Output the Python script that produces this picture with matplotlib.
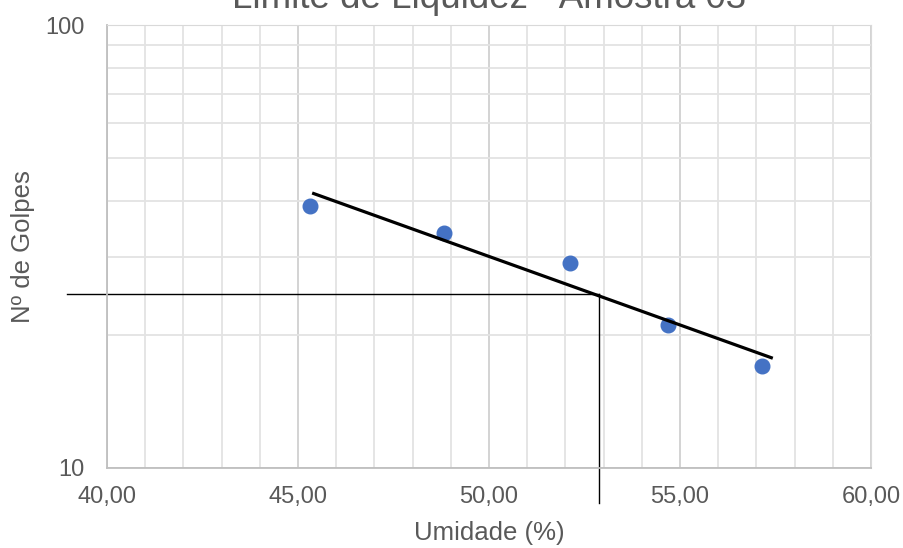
import numpy as np
import matplotlib
matplotlib.use('Agg')
import matplotlib.pyplot as plt
from matplotlib.ticker import FixedLocator, NullFormatter, FuncFormatter

plt.rcParams['font.family'] = ['Liberation Sans', 'DejaVu Sans']

# dados
umidade = [45.31, 48.82, 52.13, 54.69, 57.14]
golpes = [39, 34, 29, 21, 17]
# linhas auxiliares (limite de liquidez)
ll_umidade = 52.89
ll_golpes = 24.66
guia_x0 = 38.95
guia_y0 = 8.34

grey = '#595959'

fig = plt.figure(figsize=(9.04, 5.48), dpi=100)
ax = fig.add_axes([107/904, 80/548, 764/904, 443/548])

ax.set_yscale('log')
ax.set_xlim(40, 60)
ax.set_ylim(10, 100)

# grade
ax.xaxis.set_major_locator(FixedLocator(np.arange(40, 61, 5)))
ax.xaxis.set_minor_locator(FixedLocator(np.arange(40, 61, 1)))
ax.yaxis.set_major_locator(FixedLocator([10, 100]))
ax.yaxis.set_minor_locator(FixedLocator(np.arange(20, 100, 10)))
ax.yaxis.set_minor_formatter(NullFormatter())
ax.xaxis.set_major_formatter(FuncFormatter(lambda v, p: f'{v:.2f}'.replace('.', ',')))
ax.yaxis.set_major_formatter(FuncFormatter(lambda v, p: f'{v:.0f}'))
ax.grid(which='major', color='#D0D0D0', lw=1.3)
ax.grid(which='minor', color='#E3E3E3', lw=1.3)
ax.set_axisbelow(True)
ax.tick_params(which='both', length=0)
ax.tick_params(axis='x', pad=13, labelsize=17, labelcolor=grey)
ax.tick_params(axis='y', pad=16, labelsize=17, labelcolor=grey)
for s in ['top', 'right']:
    ax.spines[s].set_color('#D9D9D9')
for s in ['left', 'bottom']:
    ax.spines[s].set_color('#BFBFBF')
    ax.spines[s].set_linewidth(1.3)

# pontos
ax.plot(umidade, golpes, 'o', color='#4472C4', ms=10.5, zorder=3)

# linha de tendencia exponencial
coef = np.polyfit(umidade, np.log(golpes), 1)
xt = np.array([min(umidade), max(umidade)])
xt = xt + np.array([0.1, 0.25])
ax.plot(xt, np.exp(np.polyval(coef, xt)), color='black', lw=2.3, zorder=4)

# linhas auxiliares
ax.plot([guia_x0, ll_umidade], [ll_golpes, ll_golpes], color='black', lw=1, clip_on=False)
ax.plot([ll_umidade, ll_umidade], [ll_golpes, guia_y0], color='black', lw=1, clip_on=False)

ax.set_xlabel('Umidade (%)', fontsize=18.5, color=grey, va='center')
ax.xaxis.set_label_coords(0.5, -0.147)
ax.set_ylabel('Nº de Golpes', fontsize=18.5, color=grey, va='center')
ax.yaxis.set_label_coords(-0.11, 0.5)

fig.text(489/904, 1 - 8/548, 'Limite de Liquidez - Amostra 03', fontsize=26.5,
         color=grey, ha='center', va='baseline')

fig.savefig('out.png', dpi=100)
